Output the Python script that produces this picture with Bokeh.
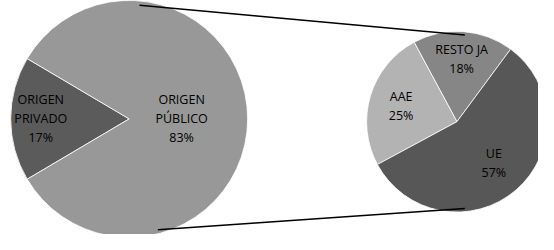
import math
from bokeh.plotting import figure
from bokeh.models import Range1d, ColumnDataSource
from bokeh.embed import file_html
from bokeh.resources import INLINE
from bokeh.core.properties import value

# ---- data ----
main_categories = ["ORIGEN\nPRIVADO", "ORIGEN\nPÚBLICO"]
main_values = [17, 83]
sub_categories = ["RESTO JA", "AAE", "UE"]
sub_values = [18, 25, 57]

# ---- styles ----
main_colors = ["#5b5b5b", "#989898"]
sub_colors = ["#868686", "#b3b3b3", "#575757"]
main_label_dist = [91, 54]
sub_label_dist = [67, 60, 58]

W, H = 538, 234
p = figure(width=W, height=H, output_backend="svg", toolbar_location=None,
           x_range=Range1d(0, 554), y_range=Range1d(0, 250),
           min_border=0)
p.axis.visible = False
p.grid.visible = False
p.outline_line_color = None
p.background_fill_color = "white"

FONT = value("Open Sans")


def pie(cx, cy, r, vals, cats, colors, start_deg, dists):
    total = float(sum(vals))
    starts, ends, lx, ly, texts = [], [], [], [], []
    a = start_deg
    for v, c, d in zip(vals, cats, dists):
        span = v / total * 360.0
        starts.append(math.radians(a))
        ends.append(math.radians(a + span))
        mid = math.radians(a + span / 2)
        lx.append(cx + d * math.cos(mid))
        ly.append(cy + d * math.sin(mid))
        texts.append(f"{c}\n{v}%")
        a += span
    src = ColumnDataSource(dict(start=starts, end=ends, color=colors))
    p.wedge(x=cx, y=cy, radius=r, start_angle="start", end_angle="end",
            fill_color="color", line_color="white", line_width=0.8, source=src)
    tsrc = ColumnDataSource(dict(x=lx, y=ly, t=texts))
    p.text(x="x", y="y", text="t", source=tsrc, text_font=FONT,
           text_font_size="12.5px", text_align="center", text_baseline="middle",
           text_line_height=1.12, text_color="black")


# main pie: private slice centred on the left
L_cx, L_cy, L_r = 132.5, 123.5, 122
priv_span = main_values[0] / sum(main_values) * 360.0
pie(L_cx, L_cy, L_r, main_values, main_categories, main_colors,
    180 - priv_span / 2, main_label_dist)

# secondary pie
R_cx, R_cy, R_r = 470, 120.5, 93
pie(R_cx, R_cy, R_r, sub_values, sub_categories, sub_colors, 53.5, sub_label_dist)

# connector lines
def pt(cx, cy, r, deg):
    return cx + r * math.cos(math.radians(deg)), cy + r * math.sin(math.radians(deg))

for a1, a2 in [(85, 85), (-76, -85)]:
    x1, y1 = pt(L_cx, L_cy, L_r, a1)
    x2, y2 = pt(R_cx, R_cy, R_r, a2)
    p.line([x1, x2], [y1, y2], line_color="black", line_width=1.5)

open("out.html", "w").write(file_html(p, INLINE))
